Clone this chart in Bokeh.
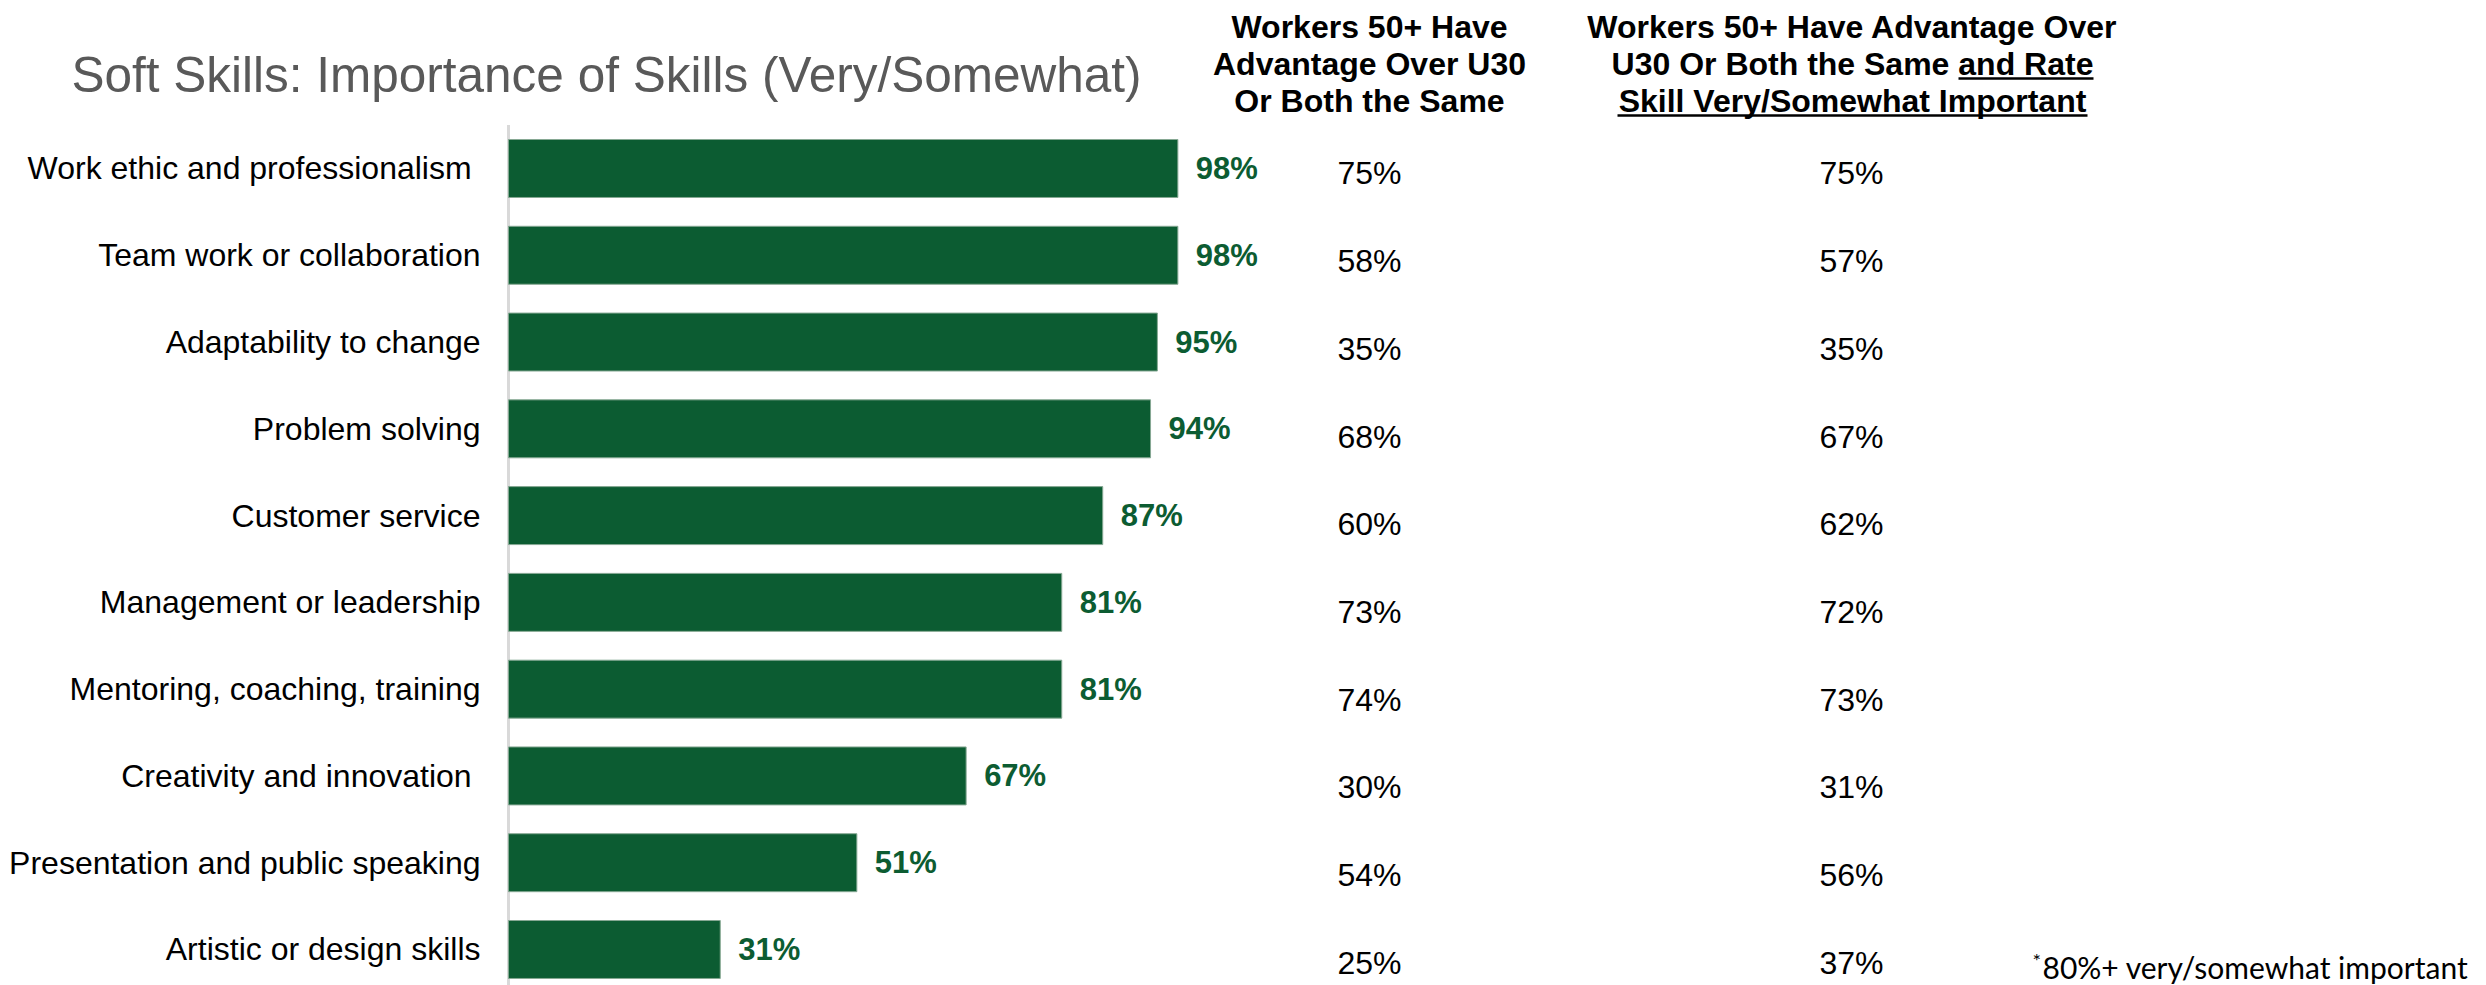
from bokeh.plotting import figure
from bokeh.models import Range1d, ColumnDataSource
from bokeh.core.properties import value
from bokeh.embed import file_html
from bokeh.resources import INLINE

# ---------------- data ----------------
skills = [
    "Work ethic and professionalism\u00a0",
    "Team work or collaboration",
    "Adaptability to change",
    "Problem solving",
    "Customer service",
    "Management or leadership",
    "Mentoring, coaching, training",
    "Creativity and innovation\u00a0",
    "Presentation and public speaking",
    "Artistic or design skills",
]
importance = [98, 98, 95, 94, 87, 81, 81, 67, 51, 31]
advantage = [75, 58, 35, 68, 60, 73, 74, 30, 54, 25]
advantage_and_rate = [75, 57, 35, 67, 62, 72, 73, 31, 56, 37]

title_text = "Soft Skills: Importance of Skills (Very/Somewhat)"
header1 = ["Workers 50+ Have", "Advantage Over U30", "Or Both the Same"]
header2 = ["Workers 50+ Have Advantage Over", "U30 Or Both the Same and Rate",
           "Skill Very/Somewhat Important"]
footnote = "80%+ very/somewhat important"

# ---------------- styling ----------------
W, H = 2486, 985
GREEN = "#0C5C32"
FONT = "Liberation Sans"

rows = list(range(len(skills)))
src = ColumnDataSource(dict(
    row=rows,
    skill=skills,
    imp=importance,
    imp_lbl=[f"{v}%" for v in importance],
    adv_lbl=[f"{v}%" for v in advantage],
    rate_lbl=[f"{v}%" for v in advantage_and_rate],
))

p = figure(width=W, height=H,
           x_range=Range1d(-74.38, 289.6), y_range=Range1d(9.415, -1.9359),
           output_backend="svg", toolbar_location=None, min_border=0,
           x_axis_type=None, y_axis_type=None)
p.outline_line_color = None
p.background_fill_color = "white"
p.border_fill_color = "white"
p.extra_x_ranges = {"px": Range1d(0, W)}
p.extra_y_ranges = {"px": Range1d(H, 0), "tbl": Range1d(9.262, -1.9733)}

# vertical axis line
p.segment(x0=0, y0=-0.5, x1=0, y1=9.8, line_color="#D9D9D9", line_width=3)

# bars
p.hbar(y="row", left=0, right="imp", height=0.668, source=src,
       fill_color=GREEN, line_color="#86A893", line_width=1)

# value labels
p.text(x="imp", y="row", text="imp_lbl", source=src, x_offset=18,
       text_align="left", text_baseline="middle", text_color=GREEN,
       text_font=value(FONT), text_font_size="31px", text_font_style="bold")

# category labels
p.text(x=0, y="row", text="skill", source=src, x_offset=-28,
       text_align="right", text_baseline="middle", text_color="black",
       text_font=value(FONT), text_font_size="32px")

# table columns
p.text(x=1369, y="row", text="adv_lbl", source=src,
       x_range_name="px", y_range_name="tbl",
       text_align="center", text_baseline="middle", text_color="black",
       text_font=value(FONT), text_font_size="32px")
p.text(x=1851, y="row", text="rate_lbl", source=src,
       x_range_name="px", y_range_name="tbl",
       text_align="center", text_baseline="middle", text_color="black",
       text_font=value(FONT), text_font_size="32px")

# title
p.text(x=[606], y=[74], text=[title_text], x_range_name="px", y_range_name="px",
       text_align="center", text_baseline="middle", text_color="#595959",
       text_font=value(FONT), text_font_size="49.5px")

# headers
hy = [26, 63, 100]
p.text(x=[1369] * 3, y=hy, text=header1, x_range_name="px", y_range_name="px",
       text_align="center", text_baseline="middle", text_color="black",
       text_font=value(FONT), text_font_size="32px", text_font_style="bold")
p.text(x=[1852] * 3, y=hy, text=header2, x_range_name="px", y_range_name="px",
       text_align="center", text_baseline="middle", text_color="black",
       text_font=value(FONT), text_font_size="32px", text_font_style="bold")
# underlines
p.segment(x0=[1958, 1617], y0=[78, 115], x1=[2093, 2087], y1=[78, 115],
          x_range_name="px", y_range_name="px", line_color="black", line_width=2.5)

# footnote
p.text(x=[2032], y=[959], text=["*"], x_range_name="px", y_range_name="px",
       text_align="left", text_baseline="alphabetic", text_color="black",
       text_font=value("Lato"), text_font_size="20px")
p.text(x=[2042], y=[966], text=[footnote], x_range_name="px", y_range_name="px",
       text_align="left", text_baseline="alphabetic", text_color="black",
       text_font=value("Lato"), text_font_size="30px")

open("out.html", "w").write(file_html(p, INLINE))
